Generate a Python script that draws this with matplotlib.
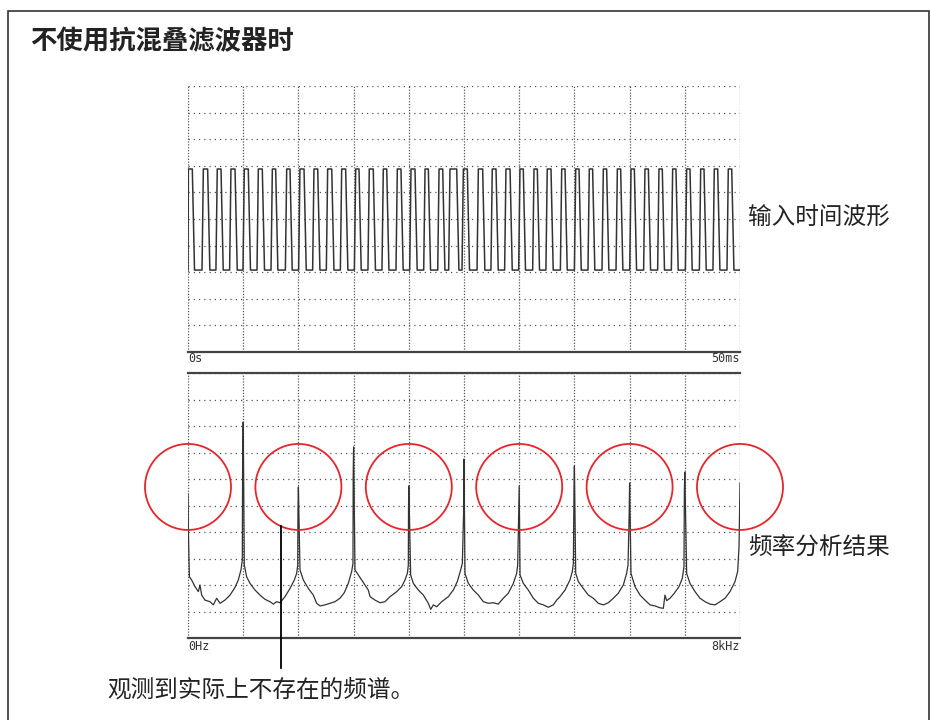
import matplotlib.pyplot as plt
from matplotlib.patches import Ellipse, Rectangle
import numpy as np

plt.rcParams['font.family'] = ['Noto Sans CJK SC', 'DejaVu Sans']

# input waveform: rising / falling edge times (ms), levels in grid divisions
rise_ms = [0.03, 1.39, 2.65, 3.89, 5.10, 6.37, 7.64, 8.94, 10.14, 11.41,
           12.65, 13.92, 15.19, 16.42, 17.69, 18.96, 20.20, 21.47, 22.74, 23.73,
           24.94, 26.30, 27.56, 28.80, 30.07, 31.34, 32.54, 33.85, 35.12, 36.35,
           37.62, 38.89, 40.13, 41.39, 42.66, 43.90, 45.17, 46.44, 47.67, 48.94]
fall_ms = [0.39, 1.78, 2.99, 4.26, 5.46, 6.73, 7.94, 9.24, 10.51, 11.75,
           13.02, 14.28, 15.49, 16.78, 18.00, 19.29, 20.56, 21.77, 23.07, 24.34,
           25.30, 26.69, 27.90, 29.17, 30.37, 31.64, 32.88, 34.15, 35.42, 36.65,
           37.92, 39.19, 40.43, 41.70, 42.96, 44.20, 45.47, 46.74, 47.98, 49.25]
high_div = 6.88
low_div = 3.08

# frequency analysis result (kHz, grid divisions)
spec_khz = [0.000, 0.006, 0.020, 0.053, 0.101, 0.150, 0.174, 0.198, 0.246, 0.319, 0.367, 0.415, 0.464, 0.536, 0.609, 0.681, 0.729, 0.768, 0.787,
            0.792, 0.800,
            0.816, 0.850, 0.899, 0.971, 1.043, 1.116, 1.188, 1.237, 1.285, 1.333, 1.406, 1.478, 1.541, 1.575, 1.590,
            1.594, 1.600,
            1.623, 1.671, 1.744, 1.816, 1.865, 1.913, 1.986, 2.058, 2.130, 2.203, 2.265, 2.323, 2.372, 2.391,
            2.394, 2.400,
            2.420, 2.517, 2.613, 2.638, 2.710, 2.783, 2.855, 2.928, 3.025, 3.097, 3.145, 3.179, 3.193,
            3.196, 3.200,
            3.227, 3.266, 3.338, 3.411, 3.483, 3.517, 3.556, 3.604, 3.677, 3.773, 3.845, 3.903, 3.952, 3.976,
            3.994, 4.000,
            4.014, 4.063, 4.135, 4.208, 4.280, 4.352, 4.425, 4.497, 4.570, 4.642, 4.715, 4.763, 4.778,
            4.794, 4.800,
            4.812, 4.860, 4.932, 5.005, 5.077, 5.150, 5.222, 5.295, 5.343, 5.391, 5.464, 5.536, 5.570, 5.585,
            5.594, 5.600,
            5.619, 5.657, 5.729, 5.802, 5.874, 5.946, 6.019, 6.091, 6.164, 6.236, 6.309, 6.357, 6.377,
            6.394, 6.400,
            6.420, 6.478, 6.551, 6.623, 6.696, 6.768, 6.841, 6.889, 6.913, 6.937, 6.986, 7.048, 7.116, 7.164, 7.188,
            7.194, 7.200,
            7.227, 7.275, 7.348, 7.420, 7.493, 7.565, 7.638, 7.710, 7.783, 7.855, 7.928, 7.966, 7.986, 7.995, 8.000]
spec_div = [5.43, 3.96, 2.31, 2.19, 1.94, 1.75, 2.00, 1.62, 1.43, 1.37, 1.25, 1.50, 1.31, 1.43, 1.62, 1.91, 2.19, 2.57, 2.94,
            6.83, 8.15,
            2.75, 2.31, 2.06, 1.81, 1.62, 1.46, 1.37, 1.28, 1.37, 1.33, 1.56, 1.87, 2.19, 2.44, 2.75,
            4.83, 5.70,
            2.57, 2.19, 1.87, 1.62, 1.31, 1.21, 1.25, 1.31, 1.37, 1.50, 1.71, 2.06, 2.51, 2.82,
            6.15, 7.21,
            2.57, 2.19, 1.81, 1.56, 1.43, 1.33, 1.37, 1.56, 1.75, 1.94, 2.19, 2.44, 2.75,
            4.91, 5.74,
            2.38, 2.06, 1.81, 1.62, 1.31, 1.08, 1.25, 1.18, 1.37, 1.56, 1.81, 2.13, 2.57, 2.82,
            4.72, 6.75,
            2.44, 2.06, 1.81, 1.62, 1.37, 1.31, 1.33, 1.28, 1.50, 1.69, 2.06, 2.44, 2.75,
            4.91, 5.74,
            2.38, 2.06, 1.81, 1.50, 1.31, 1.25, 1.16, 1.25, 1.43, 1.56, 1.81, 2.19, 2.51, 2.82,
            5.58, 6.49,
            2.44, 2.13, 1.87, 1.62, 1.50, 1.31, 1.25, 1.33, 1.50, 1.69, 2.00, 2.44, 2.75,
            4.72, 5.85,
            2.44, 1.94, 1.62, 1.43, 1.25, 1.21, 1.14, 1.12, 1.62, 1.41, 1.50, 1.69, 1.94, 2.25, 2.69,
            5.58, 6.26,
            2.44, 2.06, 1.75, 1.50, 1.37, 1.28, 1.25, 1.37, 1.50, 1.75, 2.13, 2.51, 3.45, 5.02, 5.85]

# aliased components that are circled
alias_khz = [0.0, 1.6, 3.2, 4.8, 6.4, 8.0]
alias_div = 5.7

title = '不使用抗混叠滤波器时'
wave_label = '输入时间波形'
spec_label = '频率分析结果'
note = '观测到实际上不存在的频谱。'

W, H = 931, 720
fig = plt.figure(figsize=(W / 100, H / 100), dpi=100)

# outer frame
fig.patches.append(Rectangle((8 / W, -0.01), 921 / W, 1 - 11 / H + 0.01,
                             transform=fig.transFigure, fill=False,
                             edgecolor='#333333', linewidth=1.2))

ax1 = fig.add_axes([188 / W, 1 - 352 / H, 552 / W, 266 / H])
ax2 = fig.add_axes([188 / W, 1 - 638 / H, 552 / W, 265 / H])


def scope_grid(ax, nx_max):
    for s in ax.spines.values():
        s.set_visible(False)
    ax.set_xticks([])
    ax.set_yticks([])
    for i in range(11):
        ax.axhline(i, color='#555555', lw=0.9, ls=(0, (1, 3.2)), zorder=1)
        ax.axvline(nx_max * i / 10, color='#555555', lw=0.9, ls=(0, (1, 1.3)), zorder=1)
    ax.set_ylim(0, 10)
    ax.set_xlim(0, nx_max)


scope_grid(ax1, 50)
scope_grid(ax2, 8)

ax1.spines['bottom'].set_visible(True)
ax1.spines['bottom'].set_color('#444444')
ax1.spines['bottom'].set_linewidth(1.6)
for side in ['top', 'bottom']:
    ax2.spines[side].set_visible(True)
    ax2.spines[side].set_color('#444444')
    ax2.spines[side].set_linewidth(1.6)

# time waveform
t = [0.0]
v = [low_div]
for r, f in zip(rise_ms, fall_ms):
    t += [max(r - 0.12, 0.0), r, f, f + 0.2]
    v += [low_div, high_div, high_div, low_div]
t.append(50.0)
v.append(low_div)
ax1.plot(t, v, color='#333333', lw=1.1, zorder=3)

# spectrum
ax2.plot(spec_khz, spec_div, color='#333333', lw=0.9, zorder=3)

ew = 2 * 43 / 69
eh = 2 * 43 / 26.5
for fk in alias_khz:
    ax2.add_patch(Ellipse((fk, alias_div), ew, eh, fill=False,
                          edgecolor='#e5262c', lw=1.3, clip_on=False, zorder=4))

# pointer line from the second circle to the note
px = 1.348
ptop = alias_div - eh / 2 * np.sqrt(1 - ((px - alias_khz[1]) / (ew / 2)) ** 2)
ax2.plot([px, px], [ptop, -1.13], color='black', lw=1.3, clip_on=False, zorder=5)

# scale labels
mono = dict(family='DejaVu Sans Mono', fontsize=8.5, color='#333333', va='center')
fig.text(188 / W, 1 - 359 / H, '0s', ha='left', **mono)
fig.text(740 / W, 1 - 359 / H, '50ms', ha='right', **mono)
fig.text(188 / W, 1 - 646 / H, '0Hz', ha='left', **mono)
fig.text(740 / W, 1 - 646 / H, '8kHz', ha='right', **mono)

fig.text(30 / W, 1 - 42 / H, title, fontsize=19, fontweight='bold',
         color='#222222', ha='left', va='center')
fig.text(748 / W, 1 - 218 / H, wave_label, fontsize=17, color='#222222',
         ha='left', va='center')
fig.text(748 / W, 1 - 548 / H, spec_label, fontsize=17, color='#222222',
         ha='left', va='center')
fig.text(107 / W, 1 - 690 / H, note, fontsize=17, color='#222222',
         ha='left', va='center')

fig.savefig('out.png', dpi=100)
